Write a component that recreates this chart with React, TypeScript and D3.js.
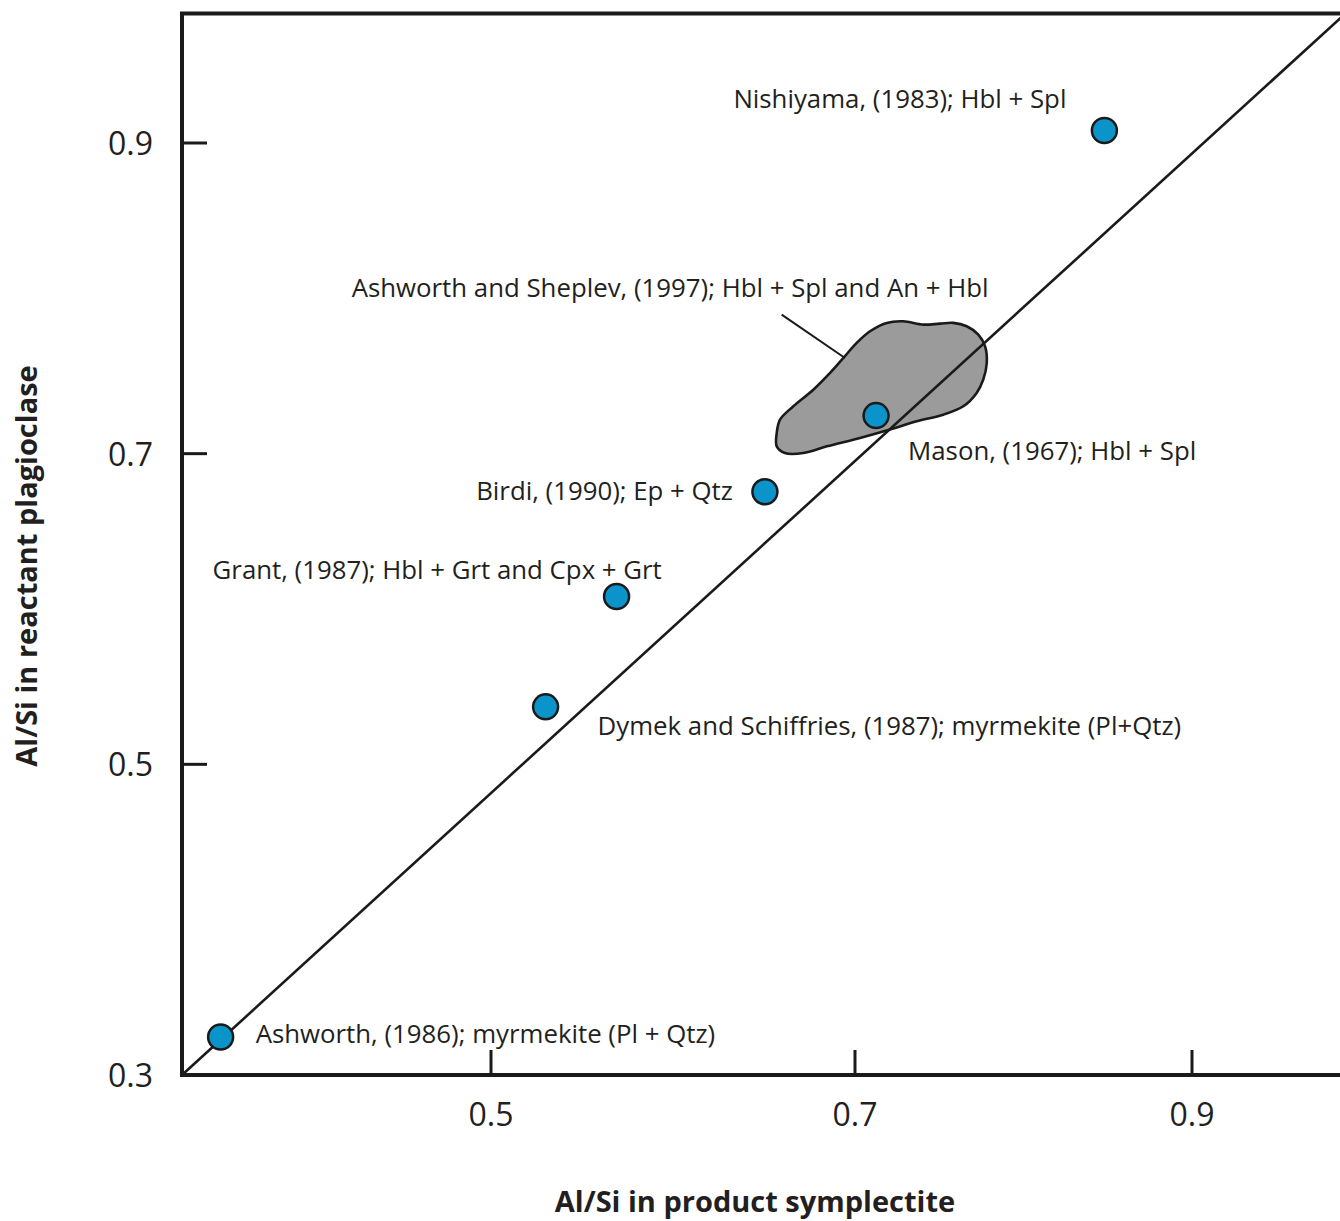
import React, { useEffect } from "react";
import * as d3 from "d3";

// ---------- data ----------
const studies = [
  "Nishiyama, (1983); Hbl + Spl",
  "Mason, (1967); Hbl + Spl",
  "Birdi, (1990); Ep + Qtz",
  "Grant, (1987); Hbl + Grt and Cpx + Grt",
  "Dymek and Schiffries, (1987); myrmekite (Pl+Qtz)",
  "Ashworth, (1986); myrmekite (Pl + Qtz)",
];
const productAlSi = [0.848, 0.7125, 0.6505, 0.569, 0.53, 0.325];
const reactantAlSi = [0.908, 0.7245, 0.6755, 0.608, 0.537, 0.3245];

const fieldLabel = "Ashworth and Sheplev, (1997); Hbl + Spl and An + Hbl";
const fieldX = [
  0.657, 0.6588, 0.6661, 0.6771, 0.6863, 0.6936, 0.701, 0.7089, 0.7188, 0.7287,
  0.7405, 0.7504, 0.7583, 0.7663, 0.7732, 0.7772, 0.7782, 0.7761, 0.7722, 0.7643,
  0.7524, 0.7366, 0.7208, 0.703, 0.6845, 0.6716, 0.6615, 0.657,
];
const fieldY = [
  0.7133, 0.7219, 0.7305, 0.7412, 0.752, 0.7616, 0.7713, 0.7788, 0.7842, 0.7852,
  0.7831, 0.7837, 0.7842, 0.782, 0.7766, 0.7691, 0.7584, 0.7477, 0.7391, 0.7305,
  0.7251, 0.7208, 0.7155, 0.7101, 0.7047, 0.7004, 0.7004, 0.7047,
];
const leaderX = [0.6597, 0.6945];
const leaderY = [0.7895, 0.7616];

const refLineX = [0.3, 0.9914];
const refLineY = [0.3, 0.9834];

const xTicks = [0.5, 0.7, 0.9];
const yTicks = [0.3, 0.5, 0.7, 0.9];
const xTitle = "Al/Si in product symplectite";
const yTitle = "Al/Si in reactant plagioclase";

// ---------- layout (pixels, styles) ----------
const W = 1340;
const H = 1221;
const labelOffsets = [
  { dx: -371, dy: -23, anchor: "start" },
  { dx: 32, dy: 44, anchor: "start" },
  { dx: -32, dy: 8, anchor: "end" },
  { dx: -404, dy: -18, anchor: "start" },
  { dx: 52, dy: 28, anchor: "start" },
  { dx: 35, dy: 6, anchor: "start" },
];
const fieldLabelOffset = { dx: -430, dy: -18 };
const FONT = "'Open Sans', 'Noto Sans', sans-serif";
const TEXT = "#231f20";
const LABEL_SIZE = 25.8;

export default function App() {
  useEffect(() => {
    document.body.style.margin = "0";
  }, []);

  const x = d3
    .scaleLinear()
    .domain([0.3, 0.5, 0.7, 0.9, 1.0])
    .range([182, 491, 855, 1192, 1360]);
  const y = d3.scaleLinear().domain([0.3, 0.9]).range([1075, 143]);
  const yTop = 0.9834;

  const x0 = x(0.3);
  const y0 = y(0.3);
  const yT = y(yTop);
  const xR = x(1.0);

  const fieldPts: [number, number][] = fieldX.map((v, i) => [x(v), y(fieldY[i])]);
  const blob = d3.line().curve(d3.curveCatmullRomClosed.alpha(0.5))(fieldPts) || "";

  const refLine = (
    <line
      x1={x(refLineX[0])}
      y1={y(refLineY[0])}
      x2={x(refLineX[1])}
      y2={y(refLineY[1])}
      stroke="#1a1a1a"
      strokeWidth={2.6}
    />
  );

  return (
    <svg width={W} height={H} style={{ display: "block", background: "#fff" }}>
      {/* field */}
      <path d={blob} fill="#9b9b9b" stroke="#1a1a1a" strokeWidth={2.6} />
      <line
        x1={x(leaderX[0])}
        y1={y(leaderY[0])}
        x2={x(leaderX[1])}
        y2={y(leaderY[1])}
        stroke="#1a1a1a"
        strokeWidth={2}
      />
      {/* reference line */}
      {refLine}
      <text
        x={x(leaderX[0]) + fieldLabelOffset.dx}
        y={y(leaderY[0]) + fieldLabelOffset.dy}
        fontFamily={FONT}
        fontSize={LABEL_SIZE}
        fill={TEXT}
      >
        {fieldLabel}
      </text>

      {/* frame */}
      <path
        d={`M${xR},${yT}H${x0}V${y0}H${xR}`}
        fill="none"
        stroke="#1a1a1a"
        strokeWidth={4}
      />
      {/* y ticks */}
      {yTicks.map((t) => (
        <g key={"y" + t}>
          {t > 0.3 && (
            <line x1={x0} x2={x0 + 25} y1={y(t)} y2={y(t)} stroke="#1a1a1a" strokeWidth={3} />
          )}
          <text
            x={153}
            y={y(t) + 12}
            textAnchor="end"
            fontFamily={FONT}
            fontSize={32}
            fill={TEXT}
          >
            {t.toFixed(1)}
          </text>
        </g>
      ))}
      {/* x ticks */}
      {xTicks.map((t) => (
        <g key={"x" + t}>
          <line x1={x(t)} x2={x(t)} y1={y0} y2={y0 - 25} stroke="#1a1a1a" strokeWidth={3} />
          <text
            x={x(t)}
            y={y0 + 51}
            textAnchor="middle"
            fontFamily={FONT}
            fontSize={32}
            fill={TEXT}
          >
            {t.toFixed(1)}
          </text>
        </g>
      ))}

      {/* points */}
      {productAlSi.map((v, i) => (
        <circle
          key={"p" + i}
          cx={x(v)}
          cy={y(reactantAlSi[i])}
          r={12.5}
          fill="#0a94c9"
          stroke="#1a1a1a"
          strokeWidth={2.5}
        />
      ))}
      {studies.map((s, i) => (
        <text
          key={"l" + i}
          x={x(productAlSi[i]) + labelOffsets[i].dx}
          y={y(reactantAlSi[i]) + labelOffsets[i].dy}
          textAnchor={labelOffsets[i].anchor as any}
          fontFamily={FONT}
          fontSize={LABEL_SIZE}
          fill={TEXT}
        >
          {s}
        </text>
      ))}

      {/* axis titles */}
      <text
        x={755}
        y={1212}
        textAnchor="middle"
        fontFamily={FONT}
        fontWeight="bold"
        fontSize={29}
        fill={TEXT}
      >
        {xTitle}
      </text>
      <text
        transform={`translate(37,566) rotate(-90)`}
        textAnchor="middle"
        fontFamily={FONT}
        fontWeight="bold"
        fontSize={29}
        fill={TEXT}
      >
        {yTitle}
      </text>
    </svg>
  );
}
